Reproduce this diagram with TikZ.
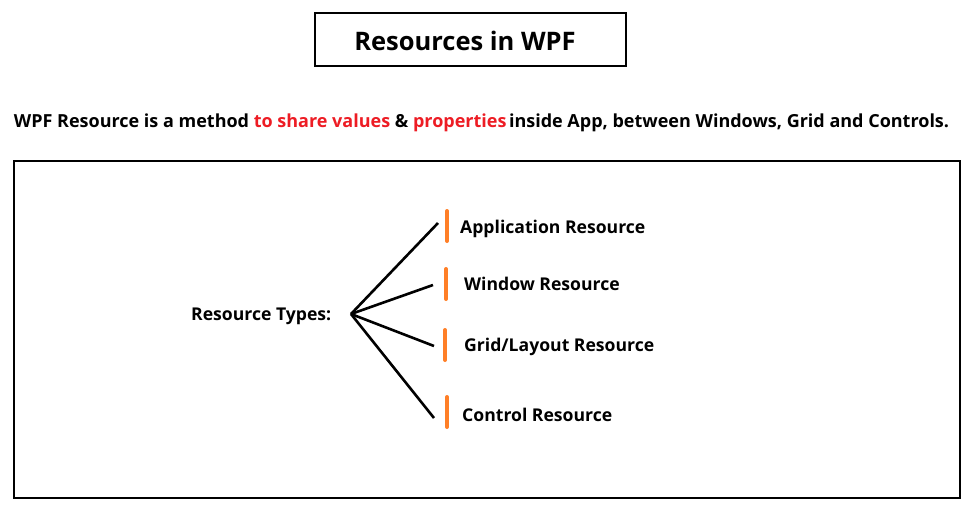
\documentclass[tikz,border=0pt]{standalone}
\usepackage{fontspec}
\setmainfont{Open Sans}
\definecolor{hired}{HTML}{ED1C24}
\definecolor{barorange}{HTML}{FF7F27}
\begin{document}
\begin{tikzpicture}[x=1pt,y=-1pt,
  frame/.style={draw=black,line width=2pt},
  lbl/.style={font=\bfseries\fontsize{17.6}{20}\selectfont,anchor=west,inner sep=0pt},
  branch/.style={draw=black,line width=2.6pt},
  bar/.style={draw=barorange,line width=4pt,line cap=round}]
\useasboundingbox (0,0) rectangle (977,525);
\draw[frame] (315,13) rectangle (626,66);
\node[font=\bfseries\fontsize{25.5}{28}\selectfont,inner sep=0pt] (title) at (465,41) {Resources in WPF};
\node[font=\bfseries\fontsize{18}{20}\selectfont,inner sep=0pt] (desc) at (481.5,123) {WPF Resource is a method \textcolor{hired}{to share values} \& \textcolor{hired}{properties}\hspace{2.5pt}inside App, between Windows, Grid and Controls.};
\draw[frame] (14,161) rectangle (960,498);
\node[lbl] (rt) at (191,316) {Resource Types:};
\coordinate (hub) at (351,314);
\coordinate (e1) at (438,223);
\coordinate (e2) at (433,285);
\coordinate (e3) at (434,346);
\coordinate (e4) at (434,418);
\draw[branch] (hub) -- (e1);
\draw[branch] (hub) -- (e2);
\draw[branch] (hub) -- (e3);
\draw[branch] (hub) -- (e4);
\coordinate (b1t) at (447,211); \coordinate (b1b) at (447,241);
\coordinate (b2t) at (446,269); \coordinate (b2b) at (446,299);
\coordinate (b3t) at (445,330); \coordinate (b3b) at (445,360);
\coordinate (b4t) at (447,397); \coordinate (b4b) at (447,427);
\draw[bar] (b1t) -- (b1b);
\draw[bar] (b2t) -- (b2b);
\draw[bar] (b3t) -- (b3b);
\draw[bar] (b4t) -- (b4b);
\node[lbl] (l1) at (460,229) {Application Resource};
\node[lbl] (l2) at (464,284) {Window Resource};
\node[lbl] (l3) at (464,347) {Grid/Layout Resource};
\node[lbl] (l4) at (462,415) {Control Resource};
\end{tikzpicture}
\end{document}
